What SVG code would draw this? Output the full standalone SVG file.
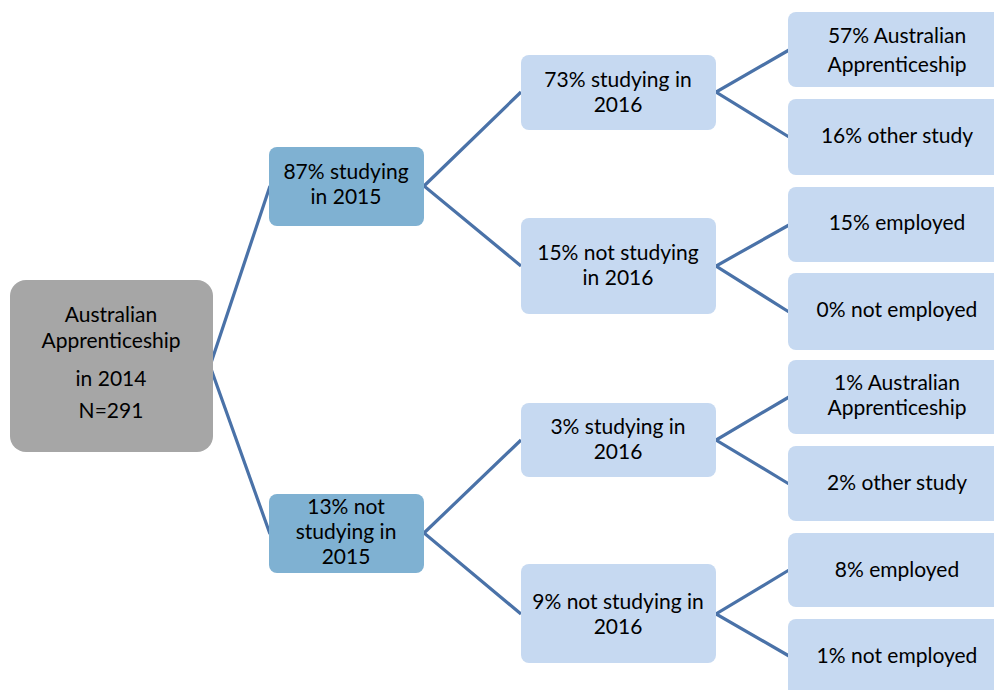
<svg xmlns="http://www.w3.org/2000/svg" width="994" height="690" viewBox="0 0 994 690">
<style>
text{font-family:Lato,"Liberation Sans",sans-serif;font-size:21px;fill:#000;text-anchor:middle}
.root{fill:#a6a6a6}
.l1{fill:#7fb1d2}
.l2{fill:#c6d9f1}
.c{fill:none;stroke:#4a72a8;stroke-width:3.2;stroke-linejoin:miter}
</style>
<rect width="994" height="690" fill="#fff"/>
<g id="connectors">
<polyline class="c" points="270,186 210,366 270,534"/>
<polyline class="c" points="521,92 424,186 521,266"/>
<polyline class="c" points="521,440 424,533 521,614"/>
<polyline class="c" points="789,50 716,92 789,137"/>
<polyline class="c" points="789,225 716,266 789,312"/>
<polyline class="c" points="789,397 716,440 789,484"/>
<polyline class="c" points="789,570 716,614 789,656"/>
</g>
<g id="root"><rect class="root" x="10" y="280" width="203" height="172" rx="16"/>
<text x="111" y="322">Australian</text><text x="111" y="348">Apprenticeship</text><text x="111" y="386">in 2014</text><text x="111" y="418">N=291</text></g>
<g id="s2015"><rect class="l1" x="269" y="147" width="155" height="79" rx="8"/>
<text x="346" y="179">87% studying</text><text x="346" y="204">in 2015</text></g>
<g id="ns2015"><rect class="l1" x="269" y="494" width="155" height="79" rx="8"/>
<text x="346" y="514">13% not</text><text x="346" y="539">studying in</text><text x="346" y="564">2015</text></g>
<g id="s2016a"><rect class="l2" x="521" y="55" width="195" height="75" rx="8"/>
<text x="618" y="87">73% studying in</text><text x="618" y="112">2016</text></g>
<g id="ns2016a"><rect class="l2" x="521" y="218" width="195" height="96" rx="8"/>
<text x="618" y="260">15% not studying</text><text x="618" y="285">in 2016</text></g>
<g id="s2016b"><rect class="l2" x="521" y="403" width="195" height="74" rx="8"/>
<text x="618" y="434">3% studying in</text><text x="618" y="459">2016</text></g>
<g id="ns2016b"><rect class="l2" x="521" y="564" width="195" height="99" rx="8"/>
<text x="618" y="609">9% not studying in</text><text x="618" y="634">2016</text></g>
<g id="leaf1"><rect class="l2" x="788" y="12" width="220" height="75" rx="8"/>
<text x="897" y="43">57% Australian</text><text x="897" y="72">Apprenticeship</text></g>
<g id="leaf2"><rect class="l2" x="788" y="99" width="220" height="76" rx="8"/>
<text x="897" y="143">16% other study</text></g>
<g id="leaf3"><rect class="l2" x="788" y="187" width="220" height="75" rx="8"/>
<text x="897" y="230">15% employed</text></g>
<g id="leaf4"><rect class="l2" x="788" y="273" width="220" height="77" rx="8"/>
<text x="897" y="317">0% not employed</text></g>
<g id="leaf5"><rect class="l2" x="788" y="360" width="220" height="74" rx="8"/>
<text x="897" y="390">1% Australian</text><text x="897" y="415">Apprenticeship</text></g>
<g id="leaf6"><rect class="l2" x="788" y="446" width="220" height="75" rx="8"/>
<text x="897" y="490">2% other study</text></g>
<g id="leaf7"><rect class="l2" x="788" y="533" width="220" height="74" rx="8"/>
<text x="897" y="577">8% employed</text></g>
<g id="leaf8"><rect class="l2" x="788" y="619" width="220" height="80" rx="8"/>
<text x="897" y="663">1% not employed</text></g>
</svg>
